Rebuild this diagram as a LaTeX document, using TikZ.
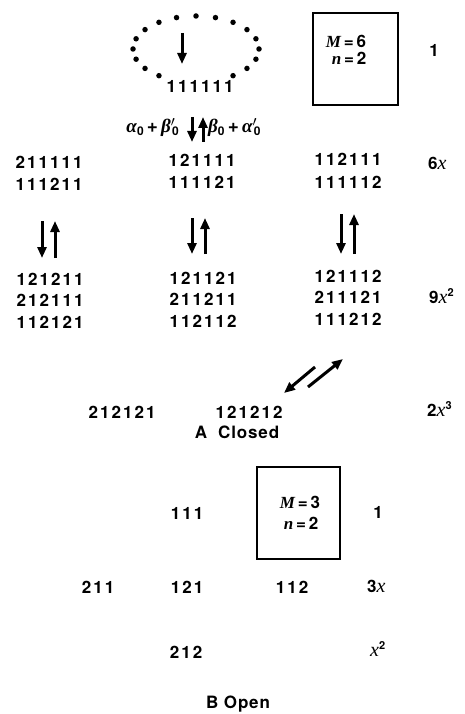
\documentclass[tikz,border=0pt]{standalone}
\usepackage{fontspec}
\setmainfont{TeX Gyre Heros}
\newfontfamily\digfont[LetterSpace=12]{TeX Gyre Heros}
\newfontfamily\capfont[LetterSpace=5]{TeX Gyre Heros}
\newfontfamily\serifit{Liberation Serif}
\usetikzlibrary{arrows.meta}
\newcommand{\vx}[1]{{\serifit\itshape\mdseries\fontsize{20}{20}\selectfont #1}}
\newcommand{\vb}[1]{{\serifit\itshape\bfseries #1}}
\newcommand{\sps}[1]{\raisebox{7pt}{\fontsize{11}{11}\selectfont\bfseries #1}}
\newcommand{\sbs}[1]{\raisebox{-3pt}{\fontsize{12}{12}\selectfont\bfseries #1}}
\tikzset{
  txt/.style={font=\digfont\bfseries\fontsize{17}{20}\selectfont, inner sep=0pt, anchor=base},
  lab/.style={font=\bfseries\fontsize{17}{20}\selectfont, inner sep=0pt, anchor=base west},
  rate/.style={font=\bfseries\fontsize{19}{20}\selectfont, inner sep=0pt},
  captxt/.style={font=\capfont\bfseries\fontsize{17}{20}\selectfont, inner sep=0pt, anchor=base},
  arr/.style={line width=3pt, -{Triangle[length=11pt,width=9pt]}},
  dotc/.style={fill=black, circle, inner sep=0pt, minimum size=5.5pt},
  frame/.style={draw, line width=2.3pt},
}
\begin{document}
\begin{tikzpicture}[x=1pt,y=-1pt]
\useasboundingbox (0,0) rectangle (465,714);
% ===== A Closed =====
\foreach \a in {0,18,...,234,306,324,342}
  \node[dotc] at ({196+63*cos(\a)},{49-33*sin(\a)}) {};
\coordinate (e1) at (182,33);
\coordinate (e2) at (182,64);
\draw[arr] (e1) -- (e2);
\node[txt] (top) at (200,93) {111111};
% box
\draw[frame] (313,13) rectangle (398,105);
\node[lab,anchor=base] (bm) at (346,48) {\vb{M}\,=\,6};
\node[lab,anchor=base] (bn) at (349,65) {\vb{n}\,=\,2};
\node[lab,anchor=base] (c1) at (434,57) {1};
% rates
\node[rate,anchor=base east] (ra) at (179,133) {\vb{α}\sbs{0}\,+\,\vb{β}$'$\!\sbs{0}};
\node[rate,anchor=base west] (rb) at (208,133) {\vb{β}\sbs{0}\,+\,\vb{α}$'$\!\sbs{0}};
\coordinate (t1) at (192,117);
\coordinate (t2) at (192,142);
\coordinate (t3) at (203,142);
\coordinate (t4) at (203,117);
\draw[arr] (t1) -- (t2);
\draw[arr] (t3) -- (t4);
% row 6x
\node[txt] (a1) at (49,168) {211111};
\node[txt] (a2) at (49,190) {111211};
\node[txt] (b1) at (202,167) {121111};
\node[txt] (b2) at (202,189) {111121};
\node[txt] (d1) at (348,166) {112111};
\node[txt] (d2) at (348,188) {111112};
\node[lab] (c2) at (428,170) {6\vx{x}};
% vertical arrows
\coordinate (p1) at (42,221);
\coordinate (p2) at (42,258);
\coordinate (p3) at (55,258);
\coordinate (p4) at (55,221);
\draw[arr] (p1) -- (p2);
\draw[arr] (p3) -- (p4);
\coordinate (q1) at (192,218);
\coordinate (q2) at (192,254);
\coordinate (q3) at (205,254);
\coordinate (q4) at (205,218);
\draw[arr] (q1) -- (q2);
\draw[arr] (q3) -- (q4);
\coordinate (s1) at (341,214);
\coordinate (s2) at (341,254);
\coordinate (s3) at (354,254);
\coordinate (s4) at (354,214);
\draw[arr] (s1) -- (s2);
\draw[arr] (s3) -- (s4);
% row 9x^2
\node[txt] (e1n) at (50,285) {121211};
\node[txt] (e2n) at (50,306) {212111};
\node[txt] (e3n) at (50,328) {112121};
\node[txt] (f1) at (203,284) {121121};
\node[txt] (f2) at (203,305) {211211};
\node[txt] (f3) at (203,327) {112112};
\node[txt] (g1) at (348,282) {121112};
\node[txt] (g2) at (348,303) {211121};
\node[txt] (g3) at (348,325) {111212};
\node[lab] (c3) at (429,303) {9\vx{x}\sps{2}};
% diagonal arrows
\coordinate (h1) at (315,367);
\coordinate (h2) at (284,393);
\coordinate (h3) at (308,387);
\coordinate (h4) at (343,359);
\draw[arr] (h1) -- (h2);
\draw[arr] (h3) -- (h4);
% row 2x^3
\node[txt] (k1) at (122,418) {212121};
\node[txt] (k2) at (249,418) {121212};
\node[lab] (c4) at (427,416) {2\vx{x}\sps{3}};
\node[captxt] (capA) at (237,438) {A\ \ Closed};
% ===== B Open =====
\draw[frame] (257,467) rectangle (340,559);
\node[lab,anchor=base] (bm2) at (300,508) {\vb{M}\,=\,3};
\node[lab,anchor=base] (bn2) at (301,529) {\vb{n}\,=\,2};
\node[txt] (m1) at (187,519) {111};
\node[lab,anchor=base] (c5) at (378,518) {1};
\node[txt] (n1) at (98,593) {211};
\node[txt] (n2) at (187,593) {121};
\node[txt] (n3) at (292,593) {112};
\node[lab] (c6) at (367,592) {3\vx{x}};
\node[txt] (o1) at (186,658) {212};
\node[lab] (c7) at (370,656) {\vx{x}\sps{2}};
\node[captxt] (capB) at (238,708) {B Open};
\end{tikzpicture}
\end{document}
